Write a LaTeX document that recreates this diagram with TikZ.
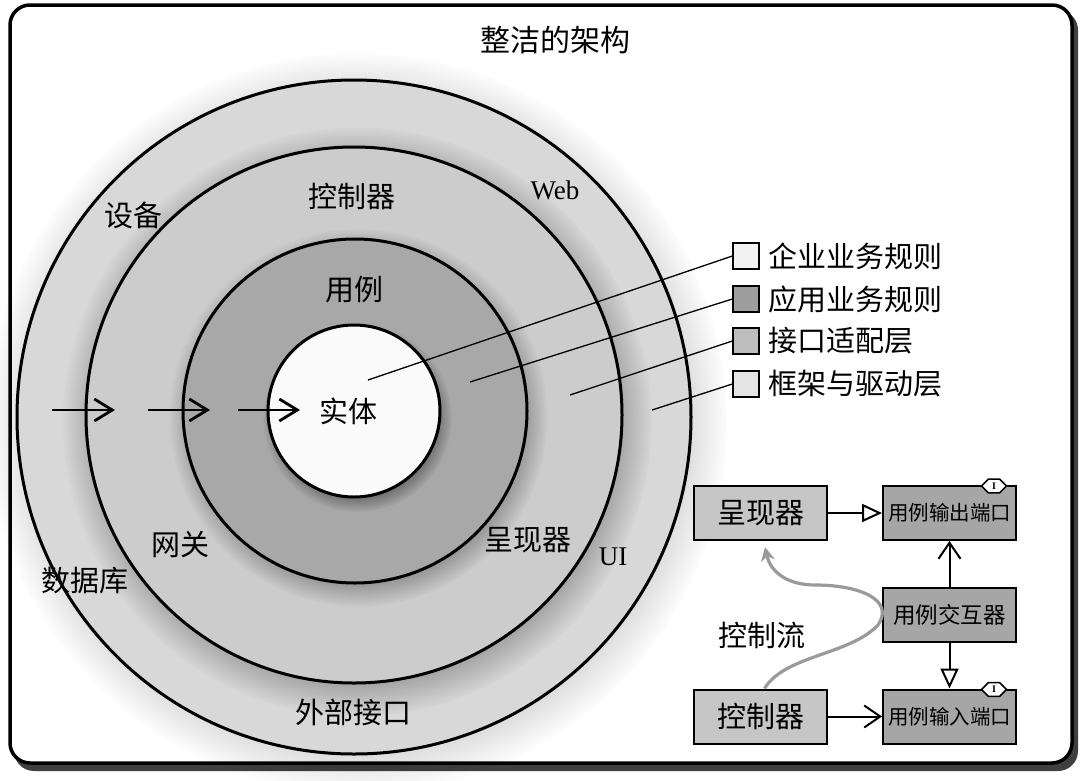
\documentclass[tikz,border=0pt]{standalone}
\usepackage{fontspec}
\setmainfont{Liberation Serif}
\newfontfamily\cjk{Noto Sans CJK SC}
\usetikzlibrary{arrows.meta,shadows,shapes.misc}
\definecolor{ringfw}{HTML}{D8D8D8}
\definecolor{ringia}{HTML}{CCCCCC}
\definecolor{ringuc}{HTML}{A8A8A8}
\definecolor{ringent}{HTML}{FAFAFA}
\definecolor{lgent}{HTML}{F2F2F2}
\definecolor{lguc}{HTML}{9E9E9E}
\definecolor{lgia}{HTML}{BDBDBD}
\definecolor{lgfw}{HTML}{E4E4E4}
\definecolor{boxlight}{HTML}{C6C6C6}
\definecolor{boxdark}{HTML}{A6A6A6}
\definecolor{flowgray}{HTML}{9A9A9A}
\tikzset{
  ring/.style={circle, draw=black, line width=3pt, inner sep=0pt,
    circular drop shadow={shadow xshift=3pt, shadow yshift=-6pt, opacity=0.3, fill=black}},
  outerring/.style={circle, draw=black, line width=3pt, inner sep=0pt,
    circular drop shadow={shadow xshift=3pt, shadow yshift=-5pt, opacity=0.18, fill=black}},
  lbl/.style={font=\cjk\fontsize{29}{29}\selectfont, inner sep=0pt},
  latinlbl/.style={font=\fontsize{27}{27}\selectfont, inner sep=0pt},
  legendbox/.style={draw=black, line width=1.3pt, minimum size=26pt, inner sep=0pt},
  legendtxt/.style={font=\cjk\fontsize{29}{29}\selectfont, anchor=west, inner sep=0pt},
  leader/.style={line width=1.3pt},
  flowarrow/.style={line width=2.8pt, -{Straight Barb[length=18pt,width=22pt]}},
  ucbox/.style={draw=black, line width=2pt, minimum width=133pt, minimum height=54pt, inner sep=0pt},
  bigtxt/.style={font=\cjk\fontsize{29}{29}\selectfont},
  smalltxt/.style={font=\cjk\fontsize{20.5}{20.5}\selectfont},
  midtxt/.style={font=\cjk\fontsize{22.5}{22.5}\selectfont},
  iface/.style={chamfered rectangle, chamfered rectangle xsep=4pt, draw=black, line width=1.5pt,
    fill=white, font=\bfseries\fontsize{10}{10}\selectfont, inner xsep=2pt, inner ysep=0.5pt,
    minimum height=10pt, minimum width=25pt},
  openarrow/.style={line width=2pt, -{Triangle[open, length=20pt, width=18pt]}},
  barbarrow/.style={line width=2pt, -{Straight Barb[length=16pt,width=22pt]}},
}
\begin{document}
\begin{tikzpicture}[x=1pt,y=-1pt]
\useasboundingbox (0,0) rectangle (1080,780);
% frame
\fill[black!75, rounded corners=20pt] (14,10) rectangle (1078,771);
\draw[line width=3.5pt, fill=white, rounded corners=20pt] (10,5) rectangle (1072,763);
\node[font=\cjk\fontsize{30}{30}\selectfont] (title) at (555,40) {整洁的架构};

% rings
\node[outerring, fill=ringfw, minimum size=674pt] (fw) at (354,417) {};
\node[ring, fill=ringia, minimum size=536pt] (ia) at (354,415) {};
\node[ring, fill=ringuc, minimum size=344pt] (uc) at (355,411) {};
\node[ring, fill=ringent, minimum size=172pt] (ent) at (354,411) {};

% ring labels
\node[lbl] (tdev) at (133,215) {设备};
\node[latinlbl] (tweb) at (555,190) {Web};
\node[lbl] (tctl) at (352,196) {控制器};
\node[lbl] (tuc) at (354,290) {用例};
\node[lbl] (tent) at (348,411) {实体};
\node[lbl] (tgw) at (180,545) {网关};
\node[lbl] (tpr) at (528,540) {呈现器};
\node[latinlbl] (tui) at (613,557) {UI};
\node[lbl] (tdb) at (85,581) {数据库};
\node[lbl] (text) at (353,712) {外部接口};

% inward arrows
\coordinate (a1s) at (52,410);  \coordinate (a1e) at (115,410);
\coordinate (a2s) at (148,410); \coordinate (a2e) at (210,410);
\coordinate (a3s) at (238,410); \coordinate (a3e) at (300,410);
\draw[flowarrow] (a1s) -- (a1e);
\draw[flowarrow] (a2s) -- (a2e);
\draw[flowarrow] (a3s) -- (a3e);

% legend
\node[legendbox, fill=lgent] (lg1) at (746,256) {};
\node[legendbox, fill=lguc]  (lg2) at (746,299) {};
\node[legendbox, fill=lgia]  (lg3) at (746,341) {};
\node[legendbox, fill=lgfw]  (lg4) at (746,384) {};
\node[legendtxt] (lt1) at (768,256) {企业业务规则};
\node[legendtxt] (lt2) at (768,299) {应用业务规则};
\node[legendtxt] (lt3) at (768,341) {接口适配层};
\node[legendtxt] (lt4) at (768,384) {框架与驱动层};
\coordinate (p1) at (368,380);
\coordinate (p2) at (470,382);
\coordinate (p3) at (570,395);
\coordinate (p4) at (652,410);
\draw[leader] (p1) -- (lg1.west);
\draw[leader] (p2) -- (lg2.west);
\draw[leader] (p3) -- (lg3.west);
\draw[leader] (p4) -- (lg4.west);

% use case flow diagram
\node[ucbox, fill=boxlight, bigtxt] (pres) at (760.5,513) {呈现器};
\node[ucbox, fill=boxdark, smalltxt] (outp) at (949.5,513) {用例输出端口};
\node[ucbox, fill=boxdark, midtxt] (inter) at (949.5,615) {用例交互器};
\node[ucbox, fill=boxlight, bigtxt] (ctrl) at (760.5,716.5) {控制器};
\node[ucbox, fill=boxdark, smalltxt] (inp) at (949.5,716.5) {用例输入端口};
\node[iface] (if1) at (994,486) {I};
\node[iface] (if2) at (994,689.5) {I};

\node[bigtxt] (tflow) at (762,635) {控制流};
\coordinate (fend) at (765,547);
\draw[flowgray, line width=3.2pt, -{Stealth[length=14pt,width=14pt]}]
  ([xshift=4pt]ctrl.north) .. controls (785,655) and (850,655) .. (878,625)
  .. controls (895,600) and (860,585) .. (815,585)
  .. controls (785,585) and (770,570) .. (fend);

\draw[openarrow] (pres.east) -- (outp.west);
\draw[barbarrow] (inter.north) -- (outp.south);
\draw[openarrow] (inter.south) -- (inp.north);
\draw[barbarrow] (ctrl.east) -- (inp.west);
\end{tikzpicture}
\end{document}
